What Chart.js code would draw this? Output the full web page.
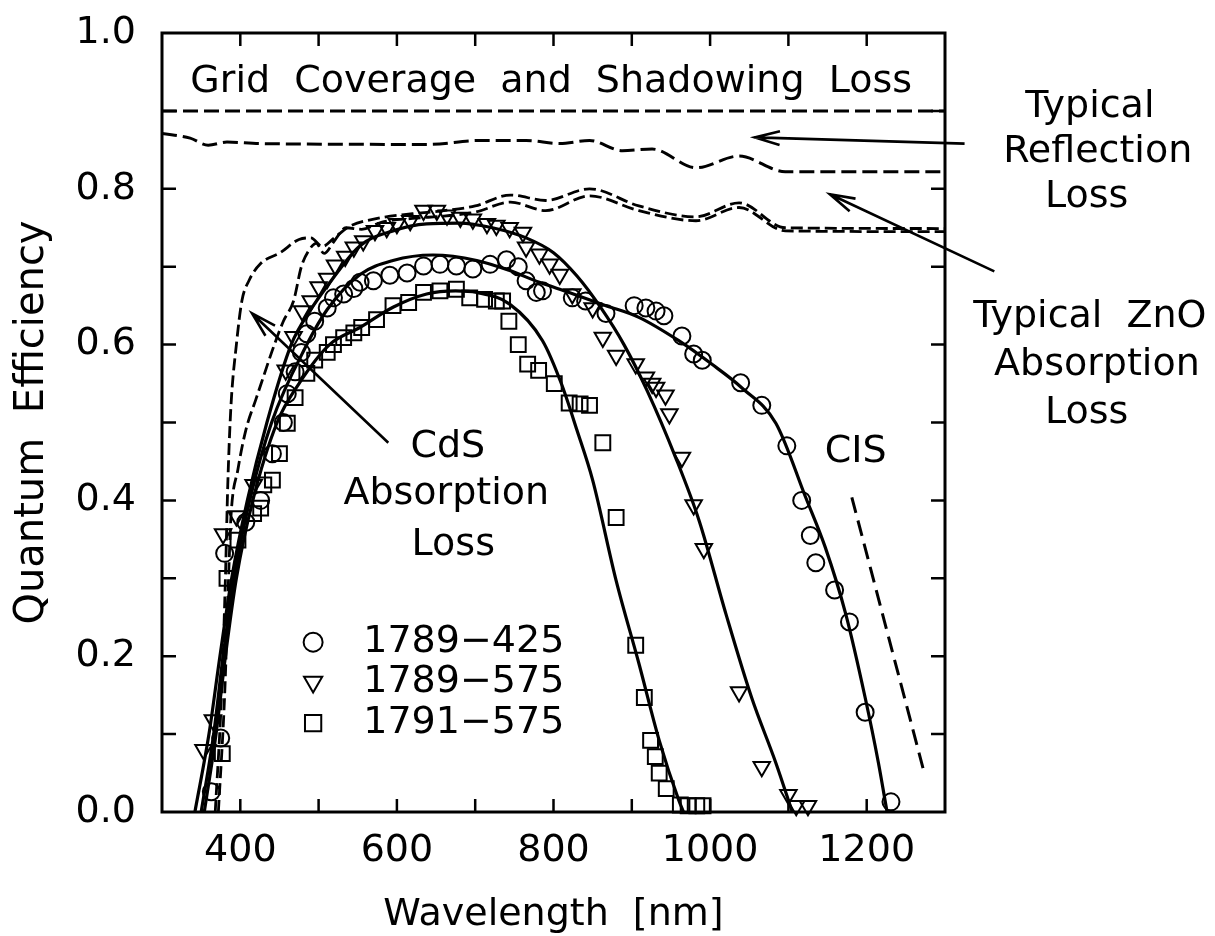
<!DOCTYPE html>
<html>
<head>
<meta charset="utf-8">
<script src="https://cdn.jsdelivr.net/npm/chart.js@4.4.1/dist/chart.umd.min.js"></script>
<style>
  html, body { margin: 0; padding: 0; background: #fff; }
  #qe { display: block; }
</style>
</head>
<body>
<canvas id="qe" width="1215" height="936"></canvas>
<script>
'use strict'

// measured QE points [wavelength nm, QE]
const cell425 = [[363,0.026],[375,0.095],[380,0.332],[407,0.372],[426,0.40],[441,0.46],[455,0.50],[460,0.537],[470,0.565],[478,0.59],[485,0.614],[495,0.63],[511,0.647],[519,0.66],[532,0.665],[545,0.672],[553,0.68],[570,0.682],[591,0.689],[613,0.692],[634,0.701],[655,0.703],[676,0.701],[697,0.697],[719,0.703],[740,0.709],[755,0.70],[765,0.682],[778,0.667],[786,0.669],[824,0.66],[841,0.656],[867,0.64],[903,0.65],[918,0.647],[931,0.643],[941,0.637],[964,0.611],[979,0.588],[990,0.58],[1039,0.551],[1066,0.522],[1098,0.47],[1117,0.40],[1128,0.355],[1135,0.32],[1159,0.285],[1178,0.244],[1198,0.128],[1231,0.013]];
const cell575 = [[353,0.08],[365,0.118],[378,0.357],[395,0.38],[417,0.42],[458,0.567],[468,0.61],[479,0.643],[490,0.656],[500,0.674],[511,0.685],[521,0.702],[534,0.713],[545,0.725],[557,0.733],[572,0.746],[587,0.75],[600,0.755],[617,0.759],[634,0.772],[651,0.772],[664,0.766],[681,0.763],[697,0.761],[715,0.755],[727,0.753],[744,0.75],[761,0.744],[765,0.725],[782,0.716],[795,0.703],[808,0.69],[824,0.665],[850,0.647],[863,0.609],[880,0.586],[905,0.575],[918,0.558],[926,0.55],[931,0.545],[943,0.535],[948,0.511],[964,0.455],[979,0.394],[992,0.338],[1037,0.154],[1066,0.058],[1100,0.022],[1110,0.008],[1125,0.008]];
const cell1791 = [[377,0.075],[383,0.30],[397,0.349],[417,0.383],[426,0.39],[430,0.42],[441,0.426],[450,0.46],[460,0.499],[470,0.532],[485,0.563],[495,0.58],[511,0.59],[519,0.60],[532,0.609],[545,0.615],[555,0.622],[574,0.632],[595,0.65],[615,0.654],[634,0.667],[655,0.669],[676,0.671],[693,0.66],[712,0.658],[727,0.656],[735,0.656],[743,0.63],[755,0.60],[767,0.575],[781,0.567],[801,0.55],[820,0.525],[834,0.524],[846,0.522],[863,0.474],[880,0.378],[905,0.214],[916,0.147],[924,0.092],[930,0.071],[935,0.05],[944,0.03],[962,0.009],[972,0.008],[983,0.008],[991,0.008]];

// fitted curves
const fit425 = [[350,0],[366,0.1],[378,0.2],[392,0.3],[412,0.4],[440,0.5],[485,0.6],[511,0.645],[553,0.69],[595,0.708],[646,0.715],[702,0.708],[744,0.695],[782,0.68],[820,0.667],[867,0.65],[909,0.635],[960,0.605],[1002,0.575],[1040,0.545],[1084,0.499],[1122,0.404],[1147,0.34],[1173,0.255],[1198,0.147],[1215,0.063],[1226,0]];
const fit575 = [[342,0],[360,0.1],[374,0.2],[389,0.3],[409,0.4],[434,0.5],[465,0.6],[490,0.645],[511,0.675],[553,0.727],[595,0.746],[638,0.755],[680,0.756],[722,0.75],[765,0.737],[800,0.718],[830,0.688],[860,0.648],[890,0.6],[920,0.54],[956,0.455],[986,0.374],[1020,0.255],[1053,0.147],[1084,0.063],[1105,0]];
const fit1791 = [[354,0],[369,0.1],[381,0.2],[395,0.3],[416,0.4],[447,0.5],[475,0.55],[514,0.6],[553,0.622],[595,0.648],[638,0.665],[675,0.669],[702,0.667],[744,0.652],[786,0.605],[810,0.55],[830,0.49],[850,0.426],[880,0.297],[909,0.191],[935,0.092],[960,0.015],[966,0]];

// loss limits
const gridLoss = [[300,0.9],[1300,0.9]];
const reflLoss = [[300,0.871],[336,0.865],[359,0.856],[383,0.86],[425,0.858],[640,0.857],[706,0.862],[765,0.862],[808,0.858],[846,0.862],[888,0.849],[926,0.851],[982,0.827],[1037,0.842],[1096,0.822],[1300,0.822]];
const znoLoss = [[368,0],[376,0.15],[381,0.3],[384,0.42],[388,0.52],[395,0.6],[402,0.656],[411,0.682],[426,0.704],[451,0.718],[475,0.735],[490,0.737],[505,0.726],[520,0.737],[540,0.752],[575,0.762],[620,0.768],[660,0.772],[700,0.778],[745,0.792],[790,0.785],[846,0.80],[909,0.778],[982,0.764],[1037,0.782],[1096,0.75],[1300,0.749]];
const cdsLoss = [[372,0],[380,0.15],[385,0.3],[388,0.378],[397,0.44],[407,0.49],[420,0.53],[430,0.56],[440,0.59],[455,0.63],[468,0.656],[478,0.7],[487,0.72],[497,0.73],[507,0.717],[520,0.733],[535,0.75],[555,0.748],[580,0.757],[620,0.762],[660,0.765],[700,0.77],[745,0.783],[790,0.772],[846,0.791],[909,0.772],[982,0.759],[1037,0.776],[1096,0.746],[1300,0.745]];
const cisEdge = [[1181,0.404],[1272,0.056]];

const legendNames = ['1789\u2212425', '1789\u2212575', '1791\u2212575'];

// labels placed in data coordinates
const notes = [
  ['Grid Coverage and Shadowing Loss', 797, 0.924],
  ['Typical', 1485, 0.892],
  ['Reflection', 1495, 0.834],
  ['Loss', 1481, 0.777],
  ['Typical ZnO', 1485, 0.623],
  ['Absorption', 1494, 0.561],
  ['Loss', 1481, 0.499],
  ['CdS', 665, 0.456],
  ['Absorption', 663, 0.395],
  ['Loss', 672, 0.330],
  ['CIS', 1186, 0.449],
];
const arrows = [
  [[1325, 0.858], [1057, 0.866]],
  [[1363, 0.694], [1153, 0.793]],
  [[589, 0.474], [415, 0.640]],
];

const FONT = '"DejaVu Sans", sans-serif';
const toXY = arr => arr.map(([x, y]) => ({x, y}));

const markerStyles = [
  {pointStyle: 'circle', radius: 8.5, rotation: 0},
  {pointStyle: 'triangle', radius: 9.5, rotation: 180},
  {pointStyle: 'rect', radius: 10.5, rotation: 0},
];

const solid = data => ({
  data: toXY(data), showLine: true, borderColor: '#000', borderWidth: 3.2,
  pointRadius: 0, fill: false, cubicInterpolationMode: 'monotone', order: 2
});
const dashed = (data, dash, w) => ({
  data: toXY(data), showLine: true, borderColor: '#000', borderWidth: w,
  borderDash: dash, pointRadius: 0, fill: false, cubicInterpolationMode: 'monotone', order: 3
});
const marks = (data, m) => ({
  data: toXY(data), showLine: false, pointStyle: m.pointStyle, pointRadius: m.radius,
  pointRotation: m.rotation, borderColor: '#000', backgroundColor: 'rgba(0,0,0,0)',
  borderWidth: 2, clip: false, order: 1
});

function drawArrow(ctx, x0, y0, x1, y1) {
  const ang = Math.atan2(y1 - y0, x1 - x0);
  const len = 26, spread = 0.27;
  ctx.beginPath();
  ctx.moveTo(x0, y0);
  ctx.lineTo(x1, y1);
  ctx.moveTo(x1 - len * Math.cos(ang - spread), y1 - len * Math.sin(ang - spread));
  ctx.lineTo(x1, y1);
  ctx.lineTo(x1 - len * Math.cos(ang + spread), y1 - len * Math.sin(ang + spread));
  ctx.stroke();
}

const framePlugin = {
  id: 'frame',
  beforeDraw(chart) {
    chart.ctx.wordSpacing = '12px';
  },
  afterDraw(chart) {
    const {ctx, chartArea: a, scales: {x, y}} = chart;
    ctx.save();
    ctx.strokeStyle = '#000';
    ctx.fillStyle = '#000';
    ctx.lineWidth = 3;
    ctx.strokeRect(a.left, a.top, a.right - a.left, a.bottom - a.top);

    // inward ticks on all four sides
    ctx.lineWidth = 2.5;
    ctx.beginPath();
    x.ticks.forEach(t => {
      if (t.value <= x.min || t.value >= x.max) return;
      const px = x.getPixelForValue(t.value);
      ctx.moveTo(px, a.bottom); ctx.lineTo(px, a.bottom - 13);
      ctx.moveTo(px, a.top); ctx.lineTo(px, a.top + 13);
    });
    y.ticks.forEach(t => {
      if (t.value <= y.min + 1e-6 || t.value >= y.max - 1e-6) return;
      const py = y.getPixelForValue(t.value);
      ctx.moveTo(a.left, py); ctx.lineTo(a.left + 14, py);
      ctx.moveTo(a.right, py); ctx.lineTo(a.right - 14, py);
    });
    ctx.stroke();

    // arrows
    ctx.lineWidth = 2.6;
    arrows.forEach(([from, to]) => {
      drawArrow(ctx, x.getPixelForValue(from[0]), y.getPixelForValue(from[1]),
        x.getPixelForValue(to[0]), y.getPixelForValue(to[1]));
    });

    // text notes
    ctx.font = '38px ' + FONT;
    ctx.textAlign = 'center';
    ctx.textBaseline = 'alphabetic';
    notes.forEach(([txt, nx, ny]) => {
      ctx.fillText(txt, x.getPixelForValue(nx), y.getPixelForValue(ny));
    });

    // legend
    const lx = x.getPixelForValue(493);
    const tx = x.getPixelForValue(557);
    const rows = [0.218, 0.167, 0.114];
    ctx.textAlign = 'left';
    ctx.textBaseline = 'middle';
    ctx.lineWidth = 2;
    ctx.fillStyle = 'rgba(0,0,0,0)';
    rows.forEach((ry, i) => {
      const py = y.getPixelForValue(ry);
      const m = markerStyles[i];
      Chart.helpers.drawPoint(ctx, {pointStyle: m.pointStyle, rotation: m.rotation, radius: m.radius + 1, borderWidth: 2}, lx, py);
    });
    ctx.fillStyle = '#000';
    rows.forEach((ry, i) => {
      ctx.fillText(legendNames[i], tx, y.getPixelForValue(ry));
    });
    ctx.restore();
  }
};

Chart.defaults.font.family = FONT;
Chart.defaults.color = '#000';

new Chart(document.getElementById('qe'), {
  type: 'scatter',
  data: {
    datasets: [
      marks(cell425, markerStyles[0]),
      marks(cell575, markerStyles[1]),
      marks(cell1791, markerStyles[2]),
      solid(fit425),
      solid(fit575),
      solid(fit1791),
      dashed(gridLoss, [15, 6], 3),
      dashed(reflLoss, [15, 6], 3),
      dashed(znoLoss, [12, 5], 2.8),
      dashed(cdsLoss, [12, 5], 2.8),
      dashed(cisEdge, [16, 8], 3),
    ]
  },
  options: {
    responsive: false,
    animation: false,
    devicePixelRatio: 1,
    layout: { padding: { left: 0, top: 33, right: 270, bottom: 0 } },
    plugins: { legend: { display: false }, tooltip: { enabled: false } },
    scales: {
      x: {
        type: 'linear', min: 300, max: 1300,
        afterFit: s => { s.height = 124; s.paddingLeft = 0; s.paddingRight = 0; },
        grid: { display: false, drawTicks: false },
        border: { display: false },
        ticks: {
          stepSize: 100, autoSkip: false, maxRotation: 0, padding: 16,
          font: { size: 38 },
          callback: v => (v % 200 === 0 ? String(v) : '')
        },
        title: { display: true, text: 'Wavelength [nm]', font: { size: 38, lineHeight: 1 }, padding: { top: 0, bottom: 2 } }
      },
      y: {
        type: 'linear', min: 0, max: 1,
        afterFit: s => { s.width = 162; s.paddingTop = 0; s.paddingBottom = 0; },
        grid: { display: false, drawTicks: false },
        border: { display: false },
        ticks: {
          stepSize: 0.1, autoSkip: false, padding: 26,
          font: { size: 38 },
          callback: v => { const k = Math.round(v * 10); return k % 2 === 0 ? (k / 10).toFixed(1) : ''; }
        },
        title: { display: true, text: 'Quantum Efficiency', font: { size: 40, lineHeight: 1 }, padding: { top: 13, bottom: 0 } }
      }
    }
  },
  plugins: [framePlugin]
});
</script>
</body>
</html>
